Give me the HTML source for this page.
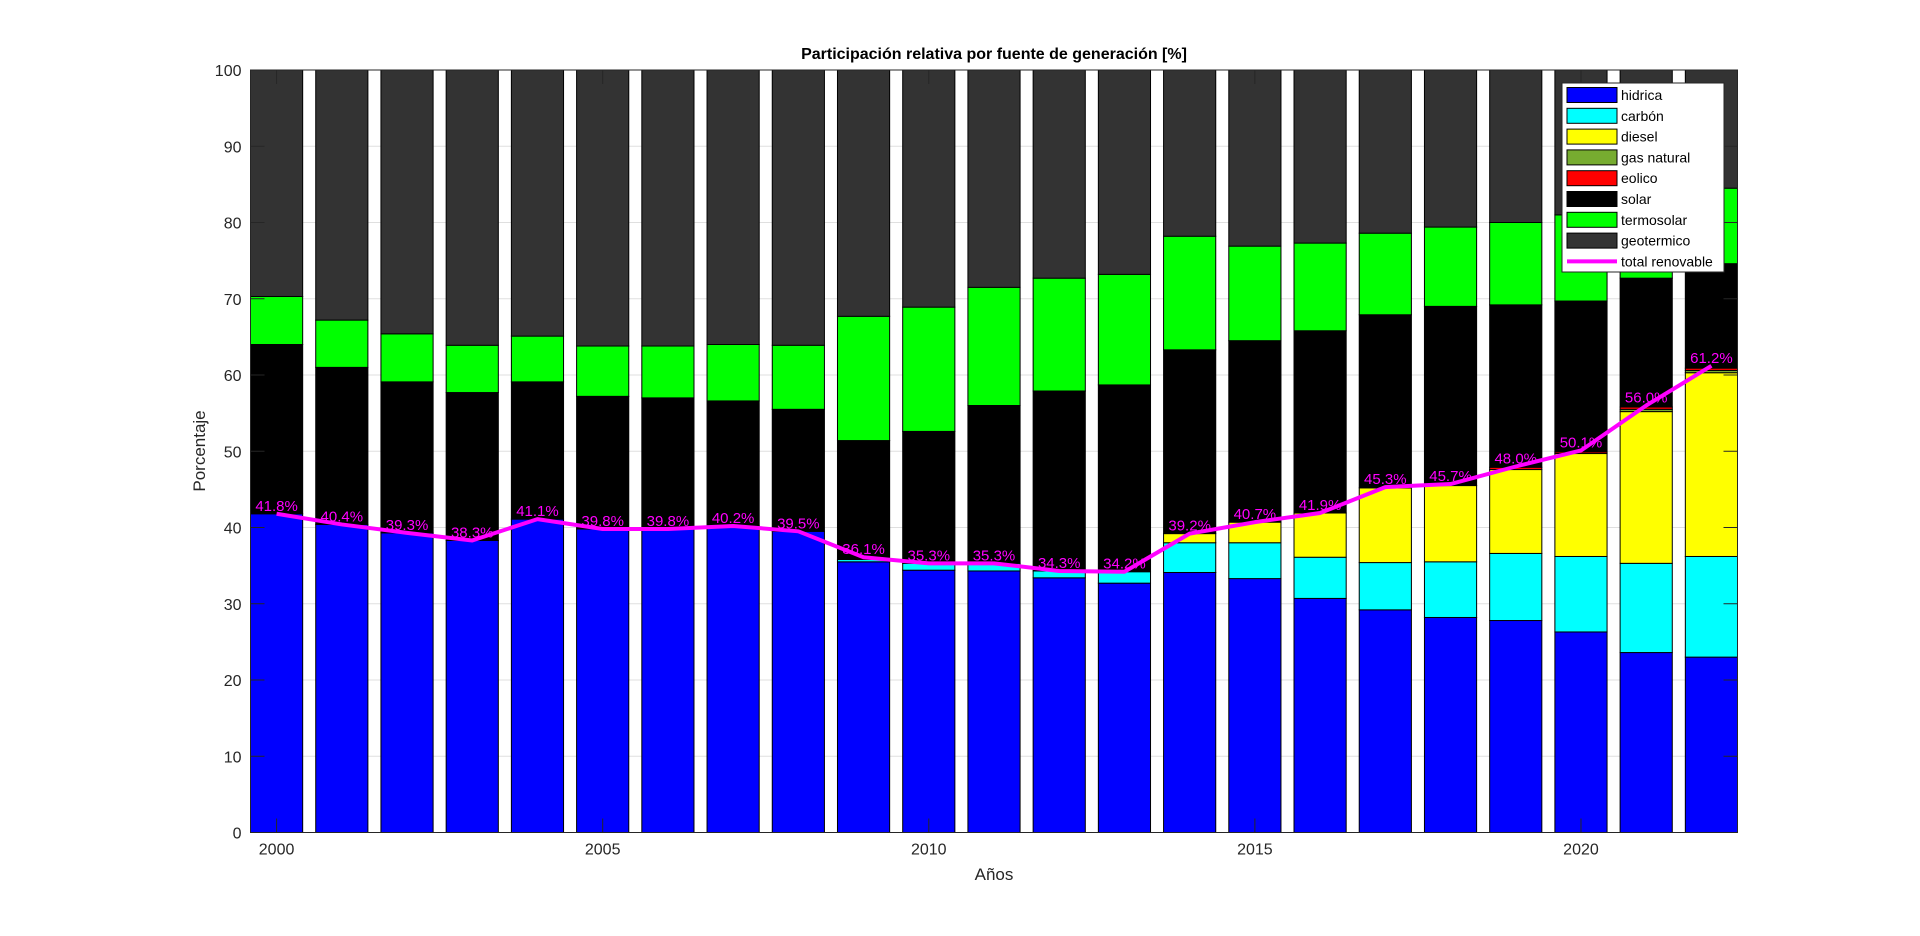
<!DOCTYPE html>
<html><head><meta charset="utf-8"><style>
html,body{margin:0;padding:0;background:#fff;}
svg{display:block;font-family:"Liberation Sans",Arial,sans-serif;}
</style></head><body>
<svg id="chart" width="1920" height="936" viewBox="0 0 1920 936" xmlns="http://www.w3.org/2000/svg">
<rect x="0" y="0" width="1920" height="936" fill="#fff"/>
<g id="grid"></g><g id="bars"></g><g id="line"></g><g id="axes"></g><g id="legend"></g>
</svg>
<script>
const years=[2000,2001,2002,2003,2004,2005,2006,2007,2008,2009,2010,2011,2012,2013,2014,2015,2016,2017,2018,2019,2020,2021,2022];
const hidrica=[41.8,40.4,39.3,38.3,41.1,39.8,39.8,40.2,39.5,35.5,34.4,34.3,33.4,32.7,34.1,33.3,30.7,29.2,28.2,27.8,26.3,23.6,23.0];
const carbon=[0,0,0,0,0,0,0,0,0,0.3,0.9,1.0,0.9,1.5,3.9,4.7,5.4,6.2,7.3,8.8,9.9,11.7,13.2];
const diesel=[0,0,0,0,0,0,0,0,0,0,0,0,0,0,1.2,2.7,5.8,9.8,10.0,11.0,13.5,19.9,24.1];
const gasNatural=[0,0,0,0,0,0,0,0,0,0,0,0,0,0,0,0,0,0,0,0,0,0.3,0.3];
const eolico=[0,0,0,0,0,0,0,0,0,0,0,0,0,0,0,0,0,0,0,0.3,0.2,0.3,0.3];
const solar=[22.2,20.6,19.8,19.4,18.0,17.4,17.2,16.4,16.0,15.6,17.3,20.7,23.6,24.5,24.1,23.8,23.9,22.7,23.5,21.3,19.8,16.9,13.7];
const termosolar=[6.3,6.2,6.3,6.2,6.0,6.6,6.8,7.4,8.4,16.3,16.3,15.5,14.8,14.5,14.9,12.4,11.5,10.7,10.4,10.8,11.3,7.3,9.9];
const totalRenovable=[41.8,40.4,39.3,38.3,41.1,39.8,39.8,40.2,39.5,36.1,35.3,35.3,34.3,34.2,39.2,40.7,41.9,45.3,45.7,48.0,50.1,56.0,61.2];
const yTicks=[0,10,20,30,40,50,60,70,80,90,100];
const xTicks=[2000,2005,2010,2015,2020];
const seriesNames=["hidrica","carbón","diesel","gas natural","eolico","solar","termosolar","geotermico"];

const NS="http://www.w3.org/2000/svg";
const L=250.5,R=1737.5,T=70,B=832.5;
const x0=1999.6,x1=2022.4;
function X(v){return L+(v-x0)/(x1-x0)*(R-L);}
function Y(v){return B-v/100*(B-T);}
function mk(parent,tag,attrs){const e=document.createElementNS(NS,tag);for(const k in attrs)e.setAttribute(k,attrs[k]);parent.appendChild(e);return e;}
const colors=["#0000ff","#00ffff","#ffff00","#77ac30","#ff0000","#000000","#00ff00","#333333"];
const geo=years.map((y,i)=>100-hidrica[i]-carbon[i]-diesel[i]-gasNatural[i]-eolico[i]-solar[i]-termosolar[i]);
const layers=[hidrica,carbon,diesel,gasNatural,eolico,solar,termosolar,geo];
const grid=document.getElementById('grid'),bars=document.getElementById('bars'),line=document.getElementById('line'),axes=document.getElementById('axes'),legend=document.getElementById('legend');

yTicks.forEach(t=>{const g=mk(grid,'line',{x1:L,x2:R,y1:Y(t),y2:Y(t),stroke:'#dfdfdf','stroke-width':1});

});

const bw=0.8*(X(1)-X(0));
years.forEach((yr,i)=>{let base=0;
layers.forEach((arr,k)=>{const v=arr[i];if(v<=0)return;
const r=mk(bars,'rect',{x:X(yr)-bw/2,y:Y(base+v),width:bw,height:Y(base)-Y(base+v),fill:colors[k],stroke:'#000','stroke-width':1});


base+=v;});});

const pts=years.map((yr,i)=>X(yr)+','+Y(totalRenovable[i])).join(' ');
const pl=mk(line,'polyline',{points:pts,fill:'none',stroke:'#ff00ff','stroke-width':4,'stroke-linejoin':'round'});


years.forEach((yr,i)=>{const t=mk(line,'text',{x:X(yr),y:Y(totalRenovable[i])-3,'text-anchor':'middle','font-size':15,fill:'#ff00ff'});
t.textContent=totalRenovable[i].toFixed(1)+'%';

});

const box=mk(axes,'rect',{x:L,y:T,width:R-L,height:B-T,fill:'none',stroke:'#262626','stroke-width':1});


yTicks.forEach(t=>{mk(axes,'line',{x1:L,x2:L+14,y1:Y(t),y2:Y(t),stroke:'#262626'});mk(axes,'line',{x1:R,x2:R-14,y1:Y(t),y2:Y(t),stroke:'#262626'});
const lb=mk(axes,'text',{x:L-9,y:Y(t)+6,'text-anchor':'end','font-size':16,fill:'#262626'});lb.textContent=t;

});
xTicks.forEach(t=>{mk(axes,'line',{x1:X(t),x2:X(t),y1:B,y2:B-14,stroke:'#262626'});mk(axes,'line',{x1:X(t),x2:X(t),y1:T,y2:T+14,stroke:'#262626'});
const lb=mk(axes,'text',{x:X(t),y:B+22,'text-anchor':'middle','font-size':16,fill:'#262626'});lb.textContent=t;

});
const ttl=mk(axes,'text',{x:(L+R)/2,y:59,'text-anchor':'middle','font-size':16,'font-weight':'bold',fill:'#000'});ttl.textContent='Participación relativa por fuente de generación [%]';


const xl=mk(axes,'text',{x:(L+R)/2,y:880,'text-anchor':'middle','font-size':17,fill:'#262626'});xl.textContent='Años';


const yl=mk(axes,'text',{x:0,y:0,transform:'translate(205,451) rotate(-90)','text-anchor':'middle','font-size':17,fill:'#262626'});yl.textContent='Porcentaje';



const lgx=1562,lgy=83,rh=20.8;
const lb=mk(legend,'rect',{x:lgx,y:lgy,width:162,height:189,fill:'#fff',stroke:'#262626','stroke-width':1});


seriesNames.forEach((n,k)=>{const cy=lgy+12+k*rh;
const p=mk(legend,'rect',{x:lgx+5,y:cy-7.5,width:50,height:15,fill:colors[k],stroke:'#000','stroke-width':1});


const t=mk(legend,'text',{x:lgx+59,y:cy+5,'font-size':14,fill:'#000'});t.textContent=n;

});
const cyl=lgy+12+8*rh;
const ll=mk(legend,'line',{x1:lgx+5,x2:lgx+55,y1:cyl,y2:cyl,stroke:'#ff00ff','stroke-width':4});


const lt=mk(legend,'text',{x:lgx+59,y:cyl+5,'font-size':14,fill:'#000'});lt.textContent='total renovable';


</script>
</body></html>
